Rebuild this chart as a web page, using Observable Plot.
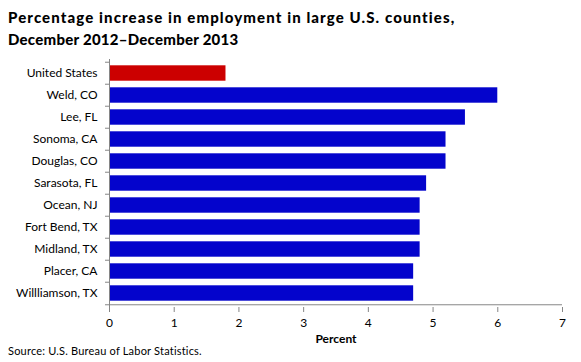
<!DOCTYPE html>
<html><head><meta charset="utf-8">
<script src="https://cdn.jsdelivr.net/npm/d3@7"></script>
<script src="https://cdn.jsdelivr.net/npm/@observablehq/plot@0.6"></script>
<style>
body{margin:0;background:#fff;}
#wrap{position:relative;width:581px;height:362px;font-family:Lato, sans-serif;overflow:hidden;}
#title{position:absolute;left:8px;top:6px;font-weight:900;font-size:15px;letter-spacing:1.1px;line-height:22px;color:#000;white-space:nowrap;}
#title .l2{letter-spacing:0.25px;}
#source{position:absolute;left:8px;top:344px;font-size:11px;letter-spacing:0.2px;color:#000;white-space:nowrap;}
#chart{position:absolute;left:0;top:0;}
</style></head><body>
<div id="wrap">
<div id="chart"></div>
<div id="title">Percentage increase in employment in large U.S. counties,<br><span class="l2">December 2012–December 2013</span></div>
<div id="source">Source: U.S. Bureau of Labor Statistics.</div>
</div>
<script>
const categories = ["United States","Weld, CO","Lee, FL","Sonoma, CA","Douglas, CO","Sarasota, FL","Ocean, NJ","Fort Bend, TX","Midland, TX","Placer, CA","Willliamson, TX"];
const values = [1.8, 6.0, 5.5, 5.2, 5.2, 4.9, 4.8, 4.8, 4.8, 4.7, 4.7];
const groups = ["us","county","county","county","county","county","county","county","county","county","county"];
const xTicks = [0,1,2,3,4,5,6,7];

const data = categories.map((c, i) => ({name: c, value: values[i], group: groups[i]}));

const W = 581, H = 362, mTop = 59, mBottom = 55, mLeft = 109, mRight = 19;
const step = (H - mTop - mBottom) / categories.length;
const tickLen = 4 * 7 / (W - mLeft - mRight);
const axisColor = "#868686";

const chart = Plot.plot({
  width: W, height: H,
  marginTop: mTop, marginBottom: mBottom, marginLeft: mLeft, marginRight: mRight,
  style: {fontFamily: "Lato, sans-serif", fontSize: "12px", color: "#000", background: "transparent"},
  x: {domain: [0, 7]},
  y: {domain: categories, padding: 0},
  color: {domain: ["us","county"], range: ["#cc0000","#0404cc"]},
  marks: [
    Plot.barX(data, {x: "value", y: "name", fill: "group", insetTop: 3.3, insetBottom: 3.3}),
    Plot.ruleX([0], {stroke: axisColor}),
    Plot.ruleY(categories, {y: d => d, x1: -tickLen, x2: 0, dy: -step / 2, stroke: axisColor}),
    Plot.ruleY([categories[categories.length - 1]], {y: d => d, x1: -tickLen, x2: 7, dy: step / 2, stroke: axisColor}),
    Plot.axisX({ticks: xTicks, tickFormat: "d", tickSize: 5, tickPadding: 6, stroke: axisColor, label: null, fill: "#000", fontSize: 12}),
    Plot.axisY({tickSize: 0, tickPadding: 12, label: null, fill: "#000", fontSize: 12}),
    Plot.text(["Percent"], {frameAnchor: "bottom", dy: 35, fontWeight: "bold", fontSize: 12, fill: "#000"})
  ]
});
document.getElementById("chart").appendChild(chart);
</script>
</body></html>
